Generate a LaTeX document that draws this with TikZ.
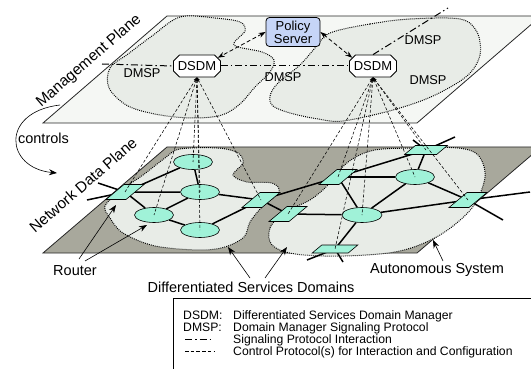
\documentclass[tikz,border=0pt]{standalone}
\usepackage{fontspec}
\setmainfont{Liberation Sans}
\usetikzlibrary{shapes.misc,shapes.geometric,arrows.meta}
\definecolor{mgmt}{HTML}{F5F7F4}
\definecolor{dom}{HTML}{E8ECE7}
\definecolor{dataplane}{HTML}{A8A89C}
\definecolor{aqua}{HTML}{A0F2D8}
\definecolor{policy}{HTML}{C6D5F7}
\pgfdeclarelayer{bg}
\pgfdeclarelayer{links}
\pgfsetlayers{bg,links,main}
\begin{document}
\begin{tikzpicture}[x=1pt,y=-1pt,
  plane/.style={draw=black!85, line width=0.8pt},
  dsblob/.style={draw=black, fill=dom, line width=1pt, dash pattern=on 0.9pt off 1.1pt},
  dsdm/.style={chamfered rectangle, chamfered rectangle xsep=3pt, chamfered rectangle ysep=3pt,
     draw, fill=white, line width=0.8pt, minimum width=47pt, minimum height=22pt, inner sep=1pt,
     font=\fontsize{13}{14}\selectfont},
  pserver/.style={draw, fill=policy, rounded corners=3.5pt, line width=0.8pt, minimum width=54pt,
     minimum height=29pt, inner sep=1pt, align=center, font=\fontsize{13}{13}\selectfont},
  router/.style={draw, fill=aqua, line width=0.6pt, xslant=1.2, minimum width=20pt,
     minimum height=15pt, inner sep=0pt},
  flatrouter/.style={router, minimum width=33pt, minimum height=8pt},
  ell/.style={ellipse, draw, fill=aqua, line width=0.6pt, minimum width=39pt, minimum height=15pt, inner sep=0pt},
  link/.style={line width=1.5pt},
  ctl/.style={line width=0.55pt, dash pattern=on 3pt off 2pt},
  ctlarr/.style={ctl, {Stealth[length=4pt,width=3pt]}-},
  sig/.style={line width=1pt, dash pattern=on 7pt off 3pt on 1.5pt off 3pt},
  lbl/.style={font=\fontsize{14.5}{15}\selectfont, inner sep=0pt},
  rlbl/.style={font=\fontsize{15.3}{16}\selectfont, inner sep=0pt, rotate=40.8},
  small/.style={font=\fontsize{12.8}{13}\selectfont, inner sep=0pt},
  leg/.style={font=\fontsize{12.2}{12}\selectfont, inner sep=0pt, anchor=base west},
  lblarrow/.style={-{Stealth[length=8pt,width=6pt]}, line width=0.6pt}
]
\useasboundingbox (0,0) rectangle (531,369);

% ---------- planes and domains ----------
\begin{pgfonlayer}{bg}
\path[plane, fill=mgmt] (43,123) -- (167,16) -- (541,16) -- (417,123) -- cycle;
\path[plane, fill=dataplane] (43,253) -- (167,147) -- (541,147) -- (417,253) -- cycle;
\path[dsblob] plot[smooth cycle, tension=0.55] coordinates {
  (180,17) (215,18) (240,22) (245,31) (234,45) (262,52) (274,60) (270,72) (255,87)
  (240,104) (222,115) (195,118) (160,115) (128,106) (109,88) (110,68) (128,54) (152,36)};
\path[dsblob] plot[smooth cycle, tension=0.55] coordinates {
  (330,33) (370,24) (410,19) (460,19) (477,32) (480,55) (467,76) (433,96) (393,110)
  (343,121) (318,119) (290,113) (273,106) (270,96) (278,83) (300,65) (315,48)};
\path[dsblob] plot[smooth cycle, tension=0.55] coordinates {
  (180,149) (218,148) (238,153) (243,163) (233,175) (247,182) (272,183) (279,192)
  (262,207) (250,222) (244,237) (225,247) (200,250) (155,246) (123,233) (110,218)
  (105,206) (120,191) (143,175) (165,158)};
\path[dsblob] plot[smooth cycle, tension=0.55] coordinates {
  (272,245) (270,228) (285,212) (310,200) (328,185) (348,162) (375,150) (420,148)
  (458,148) (478,155) (485,177) (472,208) (440,235) (400,251) (345,256) (295,254)};
\end{pgfonlayer}

% ---------- management plane nodes ----------
\node[pserver] (ps) at (293,32) {Policy\\Server};
\node[dsdm] (dl) at (197,66) {DSDM};
\node[dsdm] (dr) at (373,66) {DSDM};

% ---------- data plane nodes ----------
\node[router] (r1) at (125,192) {};
\node[router] (r2) at (261,200) {};
\node[flatrouter, minimum width=32pt, minimum height=9pt] (r3) at (426,150) {};
\node[router] (r4) at (288,214) {};
\node[router] (r5) at (338,177) {};
\node[flatrouter, minimum width=36pt] (r6) at (335,249) {};
\node[router] (r7) at (468,200) {};
\node[ell] (e1) at (193,162) {};
\node[ell] (e2) at (200,192) {};
\node[ell] (e3) at (154,215) {};
\node[ell] (e4) at (200,230) {};
\node[ell] (e5) at (415,177) {};
\node[ell, minimum width=40pt] (e6) at (362,215) {};

\coordinate (x1a) at (87,200);
\coordinate (x1b) at (98,183);
\coordinate (x3a) at (413,140);
\coordinate (x3b) at (455,137);
\coordinate (x6a) at (307,260);
\coordinate (x6b) at (343,262);
\coordinate (x7a) at (530,192);
\coordinate (x7b) at (503,220);

\begin{pgfonlayer}{links}
\draw[link] (r1.center) -- (e1) (r1.center) -- (e2) (r1.center) -- (e3)
  (e1) -- (e2) (e3) -- (e2) (e3) -- (e4) (e2) -- (r2.center) (e4) -- (r2.center)
  (r2.center) -- (r5.center) (r5.center) -- (r3.center) (r2.center) -- (r4.center)
  (r5.center) -- (e5) (r5.center) -- (e6) (r4.center) -- (e6) (e5) -- (e6)
  (e5) -- (r7.center) (e6) -- (r7.center) (e6) -- (r6.center) (r3.center) -- (e5);
\draw[link] (r1.center) -- (x1a) (r1.center) -- (x1b)
  (r3.center) -- (x3a) (r3.center) -- (x3b)
  (r6.center) -- (x6a) (r6.center) -- (x6b)
  (r7.center) -- (x7a) (r7.center) -- (x7b);
\end{pgfonlayer}

% ---------- control protocol lines ----------
\foreach \t in {r1,e3,e1,e2,e4,r2} \draw[ctlarr] (dl.south) -- (\t.center);
\foreach \t in {r4,r5,e6,r6,e5,r3,r7} \draw[ctlarr] (dr.south) -- (\t.center);

% ---------- signaling ----------
\coordinate (sl) at (102,64);
\coordinate (su) at (448,8);
\draw[sig] (sl) -- (dl.west);
\draw[sig] (dl.east) -- (dr.west);
\draw[sig] (dr.north) -- (su);
\draw[line width=0.8pt, dash pattern=on 4pt off 2.5pt,
  {Stealth[length=7pt,width=5pt]}-{Stealth[length=7pt,width=5pt]}] (ps.west) -- (dl.north east);
\draw[line width=0.8pt, dash pattern=on 4pt off 2.5pt,
  {Stealth[length=7pt,width=5pt]}-{Stealth[length=7pt,width=5pt]}] (ps.east) -- (dr.north west);

% ---------- labels ----------
\node[small, anchor=base] (d1) at (142,78) {DMSP};
\node[small, anchor=base] (d2) at (283,82) {DMSP};
\node[small, anchor=base] (d3) at (423,45) {DMSP};
\node[small, anchor=base] (d4) at (428,85) {DMSP};

\node[rlbl] (mp) at (89,61) {Management Plane};
\node[rlbl] (ndp) at (83,185) {Network Data Plane};
\node[lbl, anchor=base] (ctrl) at (43.5,143) {controls};
\coordinate (cs) at (60,105);
\coordinate (ce) at (57,173);
\draw[lblarrow] (cs) .. controls (0,112) and (5,168) .. (ce);

\node[lbl, anchor=base] (rt) at (75,275) {Router};
\coordinate (ra) at (79,259);
\coordinate (rb) at (85,261);
\coordinate (rat) at (116,205);
\coordinate (rbt) at (147,225);
\draw[lblarrow] (ra) -- (rat);
\draw[lblarrow] (rb) -- (rbt);

\node[lbl, anchor=base] (dsd) at (251,292) {Differentiated Services Domains};
\coordinate (da) at (250,278);
\coordinate (db) at (265,278);
\coordinate (dat) at (228,247);
\coordinate (dbt) at (287,247);
\draw[lblarrow] (da) -- (dat);
\draw[lblarrow] (db) -- (dbt);

\node[lbl, anchor=base] (as) at (437,273) {Autonomous System};
\coordinate (aa) at (443,261);
\coordinate (aat) at (433,240);
\draw[lblarrow] (aa) -- (aat);

% ---------- legend ----------
\draw[line width=0.8pt] (173,380) -- (173,298) -- (545,298);
\node[leg] (l1a) at (183,319) {DSDM:};
\node[leg] (l1b) at (233,319) {Differentiated Services Domain Manager};
\node[leg] (l2a) at (183,331) {DMSP:};
\node[leg] (l2b) at (233,331) {Domain Manager Signaling Protocol};
\coordinate (s1a) at (185,339);
\coordinate (s1b) at (214,339);
\draw[sig] (s1a) -- (s1b);
\node[leg] (l3b) at (233,343) {Signaling Protocol Interaction};
\coordinate (s2a) at (185,351);
\coordinate (s2b) at (214,351);
\draw[line width=0.6pt, dash pattern=on 3.5pt off 2.2pt] (s2a) -- (s2b);
\node[leg] (l4b) at (233,355) {Control Protocol(s) for Interaction and Configuration};
\end{tikzpicture}
\end{document}
